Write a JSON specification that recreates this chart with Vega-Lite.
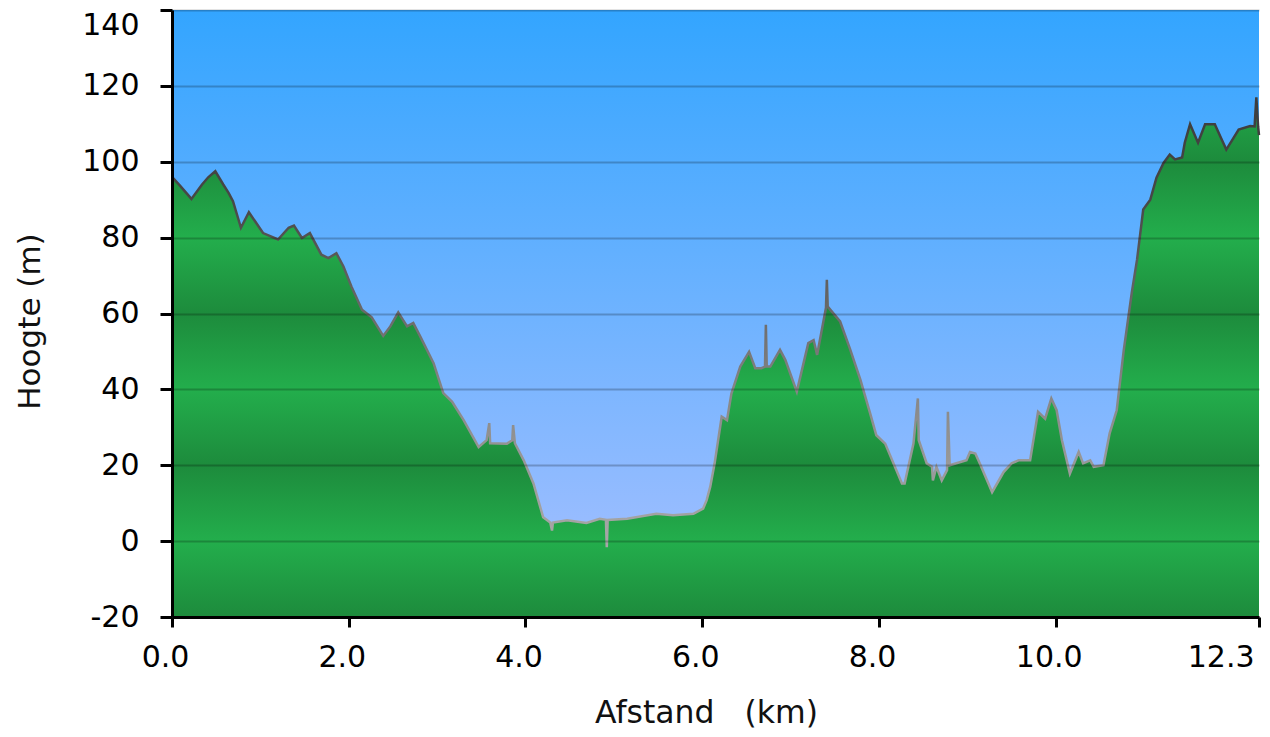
{
  "$schema": "https://vega.github.io/schema/vega-lite/v6.json",
  "autosize": {"type": "none"},
  "width": 1087,
  "height": 607,
  "padding": {"left": 172, "top": 10, "right": 11, "bottom": 120},
  "background": "white",
  "config": {
    "view": {"stroke": null},
    "font": "DejaVu Sans",
    "axis": {"labelColor": "#000", "titleColor": "#111", "titleFontWeight": "normal", "labelFont": "DejaVu Sans", "titleFont": "DejaVu Sans"}
  },
  "data": {"values": [
    {"km": 0.00, "h": 96.0}, {"km": 0.09, "h": 93.7}, {"km": 0.22, "h": 90.2}, {"km": 0.34, "h": 94.0},
    {"km": 0.41, "h": 95.9}, {"km": 0.49, "h": 97.5}, {"km": 0.58, "h": 94.0}, {"km": 0.64, "h": 91.8},
    {"km": 0.69, "h": 89.6}, {"km": 0.78, "h": 82.6}, {"km": 0.87, "h": 86.7}, {"km": 0.94, "h": 84.3},
    {"km": 1.03, "h": 81.2}, {"km": 1.20, "h": 79.5}, {"km": 1.32, "h": 82.6}, {"km": 1.38, "h": 83.2},
    {"km": 1.47, "h": 79.9}, {"km": 1.56, "h": 81.2}, {"km": 1.69, "h": 75.5}, {"km": 1.77, "h": 74.6},
    {"km": 1.86, "h": 75.9}, {"km": 1.94, "h": 72.4}, {"km": 2.03, "h": 67.1}, {"km": 2.15, "h": 61.0},
    {"km": 2.26, "h": 59.0}, {"km": 2.39, "h": 54.1}, {"km": 2.47, "h": 56.6}, {"km": 2.56, "h": 60.3},
    {"km": 2.66, "h": 56.6}, {"km": 2.73, "h": 57.5}, {"km": 2.81, "h": 53.9}, {"km": 2.96, "h": 46.9},
    {"km": 3.07, "h": 39.0}, {"km": 3.17, "h": 36.7}, {"km": 3.30, "h": 31.9}, {"km": 3.47, "h": 24.8},
    {"km": 3.56, "h": 26.6}, {"km": 3.59, "h": 31.1}, {"km": 3.60, "h": 25.8}, {"km": 3.79, "h": 25.7},
    {"km": 3.85, "h": 26.6}, {"km": 3.86, "h": 30.6}, {"km": 3.88, "h": 25.8}, {"km": 3.98, "h": 21.3},
    {"km": 4.09, "h": 15.2}, {"km": 4.20, "h": 6.3}, {"km": 4.28, "h": 4.9}, {"km": 4.30, "h": 2.8},
    {"km": 4.31, "h": 4.9}, {"km": 4.47, "h": 5.5}, {"km": 4.69, "h": 4.8}, {"km": 4.84, "h": 5.9},
    {"km": 4.91, "h": 5.6}, {"km": 4.92, "h": -1.6}, {"km": 4.93, "h": 5.6}, {"km": 5.15, "h": 5.9},
    {"km": 5.48, "h": 7.2}, {"km": 5.67, "h": 6.8}, {"km": 5.90, "h": 7.2}, {"km": 6.01, "h": 8.6},
    {"km": 6.05, "h": 10.8}, {"km": 6.09, "h": 14.3}, {"km": 6.14, "h": 20.5}, {"km": 6.22, "h": 32.8},
    {"km": 6.28, "h": 31.9}, {"km": 6.33, "h": 38.9}, {"km": 6.43, "h": 46.0}, {"km": 6.53, "h": 49.9},
    {"km": 6.60, "h": 45.6}, {"km": 6.67, "h": 45.6}, {"km": 6.71, "h": 46.0}, {"km": 6.72, "h": 57.0},
    {"km": 6.73, "h": 46.0}, {"km": 6.77, "h": 46.0}, {"km": 6.88, "h": 50.4}, {"km": 6.94, "h": 47.8},
    {"km": 7.07, "h": 39.4}, {"km": 7.20, "h": 52.2}, {"km": 7.26, "h": 53.0}, {"km": 7.30, "h": 49.1},
    {"km": 7.40, "h": 61.5}, {"km": 7.41, "h": 68.9}, {"km": 7.42, "h": 61.8}, {"km": 7.56, "h": 57.9},
    {"km": 7.67, "h": 50.8}, {"km": 7.79, "h": 42.5}, {"km": 7.90, "h": 33.7}, {"km": 7.97, "h": 27.9},
    {"km": 8.07, "h": 25.7}, {"km": 8.26, "h": 15.2}, {"km": 8.29, "h": 15.2}, {"km": 8.39, "h": 25.7},
    {"km": 8.44, "h": 37.6}, {"km": 8.45, "h": 26.6}, {"km": 8.54, "h": 20.5}, {"km": 8.60, "h": 19.6},
    {"km": 8.61, "h": 16.0}, {"km": 8.65, "h": 19.6}, {"km": 8.71, "h": 16.0}, {"km": 8.77, "h": 18.7},
    {"km": 8.78, "h": 34.1}, {"km": 8.80, "h": 20.0}, {"km": 8.99, "h": 21.3}, {"km": 9.03, "h": 23.5},
    {"km": 9.09, "h": 23.1}, {"km": 9.14, "h": 20.5}, {"km": 9.28, "h": 12.9}, {"km": 9.41, "h": 18.2},
    {"km": 9.50, "h": 20.5}, {"km": 9.58, "h": 21.3}, {"km": 9.71, "h": 21.3}, {"km": 9.80, "h": 34.1},
    {"km": 9.88, "h": 32.3}, {"km": 9.95, "h": 37.6}, {"km": 10.01, "h": 34.5}, {"km": 10.07, "h": 26.6},
    {"km": 10.16, "h": 17.8}, {"km": 10.26, "h": 23.5}, {"km": 10.31, "h": 20.5}, {"km": 10.39, "h": 21.3},
    {"km": 10.43, "h": 19.6}, {"km": 10.54, "h": 20.0}, {"km": 10.61, "h": 28.4}, {"km": 10.69, "h": 34.5},
    {"km": 10.77, "h": 50.4}, {"km": 10.86, "h": 65.4}, {"km": 10.92, "h": 74.2}, {"km": 10.99, "h": 87.4},
    {"km": 11.07, "h": 90.0}, {"km": 11.14, "h": 95.8}, {"km": 11.22, "h": 99.7}, {"km": 11.29, "h": 101.9},
    {"km": 11.35, "h": 100.6}, {"km": 11.43, "h": 101.1}, {"km": 11.46, "h": 105.0}, {"km": 11.52, "h": 109.9},
    {"km": 11.61, "h": 105.0}, {"km": 11.69, "h": 109.9}, {"km": 11.80, "h": 109.9}, {"km": 11.86, "h": 106.8},
    {"km": 11.93, "h": 103.2}, {"km": 12.07, "h": 108.5}, {"km": 12.20, "h": 109.4}, {"km": 12.25, "h": 109.3},
    {"km": 12.27, "h": 117.0}, {"km": 12.29, "h": 109.3}, {"km": 12.30, "h": 107.0}
  ]},
  "layer": [
    {
      "data": {"values": [{}]},
      "mark": {
        "type": "rect",
        "fill": {"gradient": "linear", "x1": 0, "y1": 0, "x2": 0, "y2": 1, "stops": [
          {"offset": 0, "color": "#33A5FF"},
          {"offset": 0.875, "color": "#9BBDFF"},
          {"offset": 1, "color": "#A3C1FF"}
        ]}
      },
      "encoding": {
        "x": {"datum": 0, "type": "quantitative"},
        "x2": {"datum": 12.3},
        "y": {"datum": 140, "type": "quantitative"},
        "y2": {"datum": -20}
      }
    },
    {
      "mark": {
        "type": "area",
        "interpolate": "linear",
        "fill": {"gradient": "linear", "x1": 0, "y1": 0, "x2": 0, "y2": 1, "stops": [
          {"offset": 0, "color": "#22A94A"},
          {"offset": 0.1241, "color": "#1D8B3C"},
          {"offset": 0.2701, "color": "#23AE4C"},
          {"offset": 0.4161, "color": "#1D8B3C"},
          {"offset": 0.5620, "color": "#23AE4C"},
          {"offset": 0.7080, "color": "#1D8B3C"},
          {"offset": 0.8540, "color": "#23AE4C"},
          {"offset": 1, "color": "#1D8B3C"}
        ]}
      },
      "encoding": {
        "x": {"field": "km", "type": "quantitative", "scale": {"domain": [0, 12.3], "nice": false, "zero": false},
          "axis": {
            "values": [0, 2, 4, 6, 8, 10, 12.3], "format": ".1f", "grid": false, "zindex": 1,
            "domainColor": "#000", "domainWidth": 3, "tickColor": "#000", "tickWidth": 3, "tickSize": 10,
            "labelFontSize": 30, "labelBaseline": "alphabetic", "labelPadding": 39,
            "labelAlign": {"condition": {"test": "datum.value > 12", "value": "right"}, "value": "center"},
            "labelOffset": {"condition": {"test": "datum.value > 12", "value": -5}, "value": -7},
            "labelFlush": false, "labelOverlap": false,
            "title": "Afstand\u00a0\u00a0\u00a0(km)", "titleFontSize": 31.5, "titleX": 534, "titleY": 105,
            "titleAlign": "center", "titleBaseline": "alphabetic", "titleAnchor": null
          }
        },
        "y": {"field": "h", "type": "quantitative", "scale": {"domain": [-20, 140], "nice": false, "zero": false},
          "axis": {
            "values": [-20, 0, 20, 40, 60, 80, 100, 120, 140], "grid": true, "zindex": 1,
            "labelExpr": "datum.value < 0 ? '-' + abs(datum.value) : '' + datum.value",
            "gridColor": "#000", "gridOpacity": 0.22, "gridWidth": 2,
            "domainColor": "#000", "domainWidth": 3, "tickColor": "#000", "tickWidth": 3, "tickSize": 12,
            "labelFontSize": 30, "labelPadding": 21, "labelFlush": false, "labelOverlap": false,
            "labelBaseline": {"condition": {"test": "datum.value > 130", "value": "top"}, "value": "middle"},
            "title": "Hoogte (m)", "titleFontSize": 31, "titleAngle": -90, "titleX": -142, "titleY": 311,
            "titleAlign": "center", "titleBaseline": "middle", "titleAnchor": null
          }
        },
        "y2": {"datum": -20}
      }
    },
    {
      "mark": {
        "type": "line",
        "strokeWidth": 2.5,
        "stroke": {"gradient": "linear", "x1": 0, "y1": 0, "x2": 0, "y2": 1, "stops": [
          {"offset": 0, "color": "#3D3D3D"},
          {"offset": 0.228, "color": "#474747"},
          {"offset": 0.481, "color": "#6A6A6A"},
          {"offset": 0.649, "color": "#858585"},
          {"offset": 0.818, "color": "#999999"},
          {"offset": 1, "color": "#A8A8A8"}
        ]}
      },
      "encoding": {
        "x": {"field": "km", "type": "quantitative"},
        "y": {"field": "h", "type": "quantitative"}
      }
    }
  ]
}
